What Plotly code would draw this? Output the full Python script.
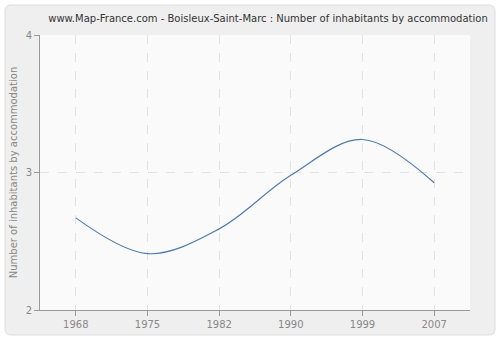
import plotly.graph_objects as go

years = ["1968", "1975", "1982", "1990", "1999", "2007"]
values = [2.67, 2.41, 2.59, 2.98, 3.24, 2.925]
y_ticks = [2, 3, 4]

title = "www.Map-France.com - Boisleux-Saint-Marc : Number of inhabitants by accommodation"
y_title = "Number of inhabitants by accommodation"

# plot area in pixels
L, R, T, B = 40, 470, 35, 310
W, H = 500, 340

def px_x(p):
    return (p - L) / (R - L)

def px_y(p):
    return (B - p) / (B - T)

fig = go.Figure()
fig.add_trace(go.Scatter(
    x=years, y=values, mode="lines",
    line=dict(color="#4f7bac", width=1.2, shape="spline", smoothing=1.0),
    hoverinfo="x+y",
))

def rounded(x0, y0, x1, y1, r):
    X = lambda v: px_x(v)
    Y = lambda v: px_y(v)
    return (f"M {X(x0+r)},{Y(y0)} L {X(x1-r)},{Y(y0)} "
            f"Q {X(x1)},{Y(y0)} {X(x1)},{Y(y0+r)} L {X(x1)},{Y(y1-r)} "
            f"Q {X(x1)},{Y(y1)} {X(x1-r)},{Y(y1)} L {X(x0+r)},{Y(y1)} "
            f"Q {X(x0)},{Y(y1)} {X(x0)},{Y(y1-r)} L {X(x0)},{Y(y0+r)} "
            f"Q {X(x0)},{Y(y0)} {X(x0+r)},{Y(y0)} Z")

fig.add_shape(type="path", xref="paper", yref="paper",
              path=rounded(5, 5, 495, 335, 6),
              fillcolor="#efefef", line=dict(color="#dddddd", width=1), layer="below")
fig.add_shape(type="rect", xref="paper", yref="paper", x0=0, x1=1, y0=0, y1=1,
              fillcolor="#fafafa", line=dict(width=0), layer="below")

fig.update_layout(
    width=W, height=H,
    margin=dict(l=L, r=W - R, t=T, b=H - B, autoexpand=False),
    paper_bgcolor="white",
    plot_bgcolor="rgba(0,0,0,0)",
    showlegend=False,
    title=dict(text=title, x=268 / W, xanchor="center", y=1 - 18 / H, yanchor="middle",
               xref="container",
               font=dict(family="DejaVu Sans", size=10, color="#333333")),
    font=dict(family="DejaVu Sans", size=10, color="#888888"),
)
fig.update_xaxes(
    type="category", range=[-0.5, 5.5], automargin=False,
    showline=True, linecolor="#999999", linewidth=1,
    ticks="outside", ticklen=5, tickcolor="#999999",
    showgrid=True, gridcolor="#e2e2e2", griddash="dash", gridwidth=1,
    tickfont=dict(size=10, color="#888888"),
    zeroline=False,
)
fig.update_yaxes(
    range=[2, 4], tickvals=y_ticks, automargin=False,
    showline=True, linecolor="#999999", linewidth=1,
    ticks="outside", ticklen=5, tickcolor="#999999",
    showgrid=True, gridcolor="#e2e2e2", griddash="dash", gridwidth=1,
    tickfont=dict(size=10, color="#888888"),
    title=dict(text=y_title, font=dict(size=10, color="#888888"), standoff=6),
    zeroline=False,
)

fig.write_html("out.html", config={"displayModeBar": False},
               post_script="document.body.style.margin='0';document.body.style.overflow='hidden';")
